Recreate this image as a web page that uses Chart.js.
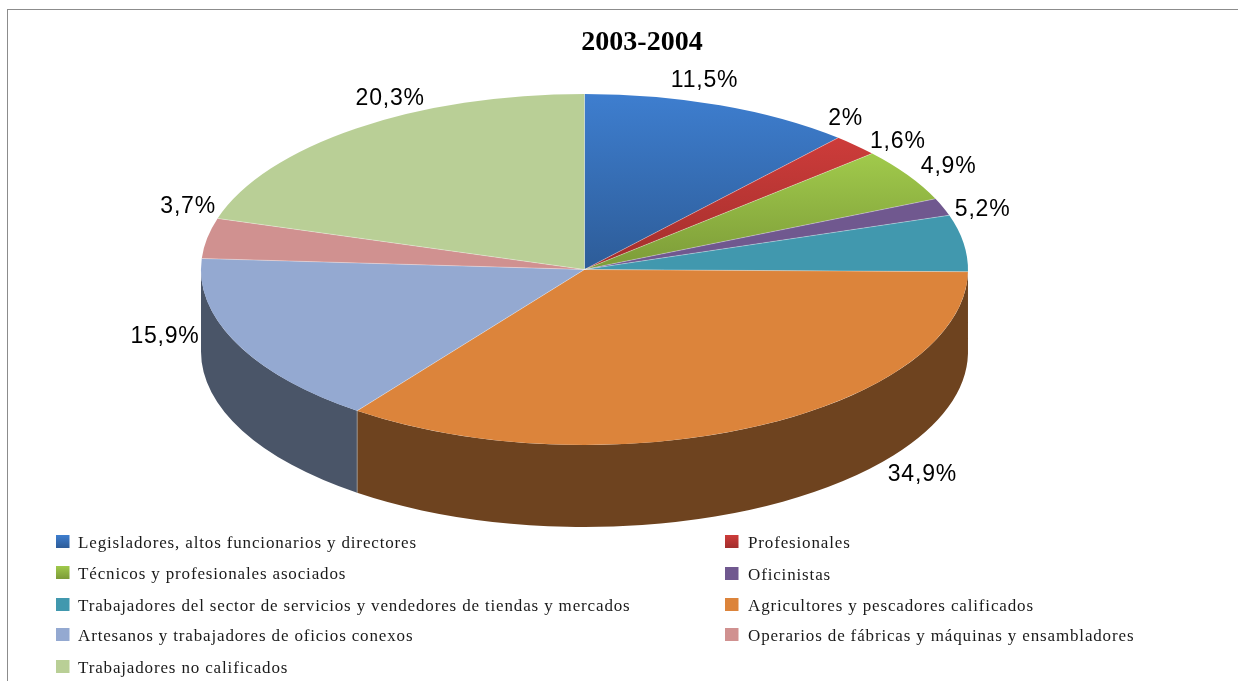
<!DOCTYPE html>
<html>
<head>
<meta charset="utf-8">
<style>html,body{margin:0;padding:0;background:#fff}canvas{display:block}</style>
<script src="https://cdn.jsdelivr.net/npm/chart.js@4/dist/chart.umd.js"></script>
</head>
<body>
<div style="width:1238px;height:681px"><canvas id="c" width="1238" height="681"></canvas></div>
<script>
const titleText = '2003-2004';
const categories = [
  'Legisladores, altos funcionarios y directores',
  'Profesionales',
  'Técnicos y profesionales asociados',
  'Oficinistas',
  'Trabajadores del sector de servicios y vendedores de tiendas y mercados',
  'Agricultores y pescadores calificados',
  'Artesanos y trabajadores de oficios conexos',
  'Operarios de fábricas y máquinas y ensambladores',
  'Trabajadores no calificados'
];
const values = [11.5, 2, 4.9, 1.6, 5.2, 34.9, 15.9, 3.7, 20.3];
const topColors = ['#3e7ecf', '#cd3c3a', '#a0c94b', '#70588f', '#4198ae', '#dc843b', '#94a9d1', '#d09190', '#b9cf96'];
const bottomColors = ['#2d5c98', '#a22e2c', '#7c9b38', '#70588f', '#4198ae', '#dc843b', '#94a9d1', '#d09190', '#b9cf96'];
const gradientTops = [-1, -0.75, -0.65, -0.35, -0.3, -1, -1, -1, -1];
const sideColors = ['#234772', '#7a2220', '#5f752a', '#44345a', '#2a6273', '#6e431f', '#4a5568', '#7c5655', '#6e7b59'];

// Look of the tilted pie in page pixels
const pie = {cx: 584.5, cy: 269.5, rx: 383.5, ry: 175.5, depth: 82};
const labelOffsets = [[-15.5,-25], [-10,-27], [41,-8], [-45,-65], [19,-33], [167,48], [-72,-7], [-19,-32], [34,-30]];
const legendPlaces = [[56,535],[725,535],[56,566],[725,567],[56,598],[725,598],[56,628],[725,628],[56,660]];
const legendTextGap = [22,23,22,23,22,23,22,23,22];

function faceTransform(ctx, a) {
  ctx.translate(pie.cx, pie.cy);
  ctx.scale(pie.rx / a.outerRadius, pie.ry / a.outerRadius);
  ctx.translate(-a.x, -a.y);
}

const tiltPlugin = {
  id: 'tilt',
  beforeDraw(chart) {
    const ctx = chart.ctx;
    ctx.save();
    ctx.fillStyle = '#8c8c8c';
    ctx.fillRect(7, 9, 1231, 1);
    ctx.fillRect(7, 9, 1, 672);
    ctx.restore();
  },
  beforeDatasetsDraw(chart) {
    const ctx = chart.ctx;
    const arcs = chart.getDatasetMeta(0).data;
    arcs.forEach((a, i) => {
      const from = Math.max(a.startAngle, 0), to = Math.min(a.endAngle, Math.PI);
      if (to <= from) return;
      ctx.beginPath();
      ctx.ellipse(pie.cx, pie.cy, pie.rx, pie.ry, 0, from, to);
      ctx.ellipse(pie.cx, pie.cy + pie.depth, pie.rx, pie.ry, 0, to, from, true);
      ctx.closePath();
      ctx.fillStyle = sideColors[i];
      ctx.fill();
      if (from > 0.05) {
        const x = pie.cx + pie.rx * Math.cos(from), y = pie.cy + pie.ry * Math.sin(from);
        ctx.beginPath();
        ctx.moveTo(x, y);
        ctx.lineTo(x, y + pie.depth);
        ctx.strokeStyle = 'rgba(170,170,170,0.7)';
        ctx.lineWidth = 1;
        ctx.stroke();
      }
    });
    ctx.save();
    faceTransform(ctx, arcs[0]);
  },
  afterDatasetsDraw(chart) {
    const ctx = chart.ctx;
    ctx.restore();
    const arcs = chart.getDatasetMeta(0).data;
    // slice separators
    ctx.save();
    ctx.strokeStyle = 'rgba(255,255,255,0.4)';
    ctx.lineWidth = 0.8;
    arcs.forEach(a => {
      ctx.beginPath();
      ctx.moveTo(pie.cx, pie.cy);
      ctx.lineTo(pie.cx + pie.rx * Math.cos(a.startAngle), pie.cy + pie.ry * Math.sin(a.startAngle));
      ctx.stroke();
    });
    // value labels
    ctx.font = '23px "Liberation Sans"';
    ctx.letterSpacing = '0.8px';
    ctx.fillStyle = '#000';
    ctx.textAlign = 'center';
    ctx.textBaseline = 'middle';
    arcs.forEach((a, i) => {
      const mid = (a.startAngle + a.endAngle) / 2;
      const x = pie.cx + pie.rx * Math.cos(mid) + labelOffsets[i][0];
      const y = pie.cy + pie.ry * Math.sin(mid) + labelOffsets[i][1];
      ctx.fillText(String(values[i]).replace('.', ',') + '%', x, y);
    });
    // legend
    ctx.font = '17px "Liberation Serif"';
    ctx.letterSpacing = '0.85px';
    ctx.textAlign = 'left';
    ctx.textBaseline = 'middle';
    categories.forEach((name, i) => {
      const [x, y] = legendPlaces[i];
      const g = ctx.createLinearGradient(0, y, 0, y + 13);
      g.addColorStop(0, topColors[i]);
      g.addColorStop(1, bottomColors[i]);
      ctx.fillStyle = g;
      ctx.fillRect(x, y, 13.5, 13);
      ctx.fillStyle = '#1a1a1a';
      ctx.fillText(name, x + legendTextGap[i], y + 8.5);
    });
    ctx.restore();
  }
};

new Chart(document.getElementById('c'), {
  type: 'pie',
  data: {
    labels: categories,
    datasets: [{
      data: values,
      clip: false,
      borderWidth: 0,
      backgroundColor(c) {
        const i = c.dataIndex;
        const area = c.chart.chartArea;
        if (!area || i === undefined) return topColors[i] || '#000';
        const cy = (area.top + area.bottom) / 2;
        const R = Math.min(area.right - area.left, area.bottom - area.top) / 2;
        const g = c.chart.ctx.createLinearGradient(0, cy + gradientTops[i] * R, 0, cy);
        g.addColorStop(0, topColors[i]);
        g.addColorStop(1, bottomColors[i]);
        return g;
      }
    }]
  },
  options: {
    responsive: false,
    animation: false,
    layout: {padding: {left: 46}},
    plugins: {
      legend: {display: false},
      tooltip: {enabled: false},
      title: {
        display: true,
        text: titleText,
        color: '#000',
        font: {family: '"Liberation Serif"', size: 28, weight: 'bold', lineHeight: 1.2},
        padding: {top: 26, bottom: 0}
      }
    }
  },
  plugins: [tiltPlugin]
});
</script>
</body>
</html>
